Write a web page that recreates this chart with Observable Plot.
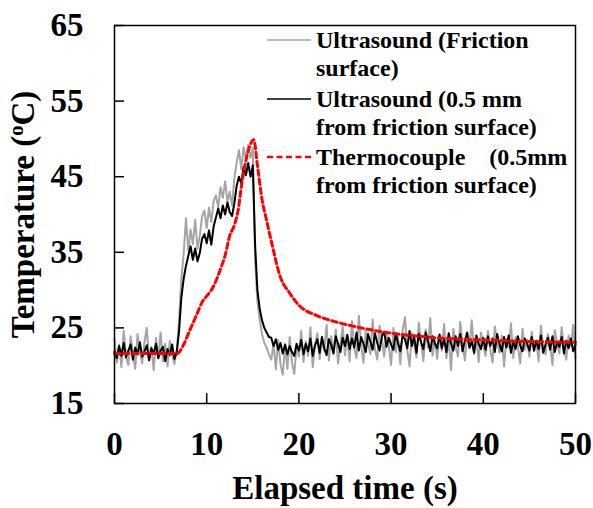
<!DOCTYPE html>
<html><head><meta charset="utf-8">
<script src="https://cdn.jsdelivr.net/npm/d3@7"></script>
<script src="https://cdn.jsdelivr.net/npm/@observablehq/plot@0.6"></script>
<style>
html,body{margin:0;padding:0;background:#fff;}
#chart{width:593px;height:508px;}
</style></head><body><div id="chart"></div>
<script>
// ---------- data ----------
const xTicks = [0, 10, 20, 30, 40, 50];
const yTicks = [15, 25, 35, 45, 55, 65];
const xLabel = "Elapsed time (s)";
const yLabel = "Temperature (oC)";
const sampleStep = 0.25; // seconds between ultrasound samples

// Ultrasound (friction surface), grey
const frictionSurface = [
  23.5,20.4,22.8,19.8,24.6,21.2,20.1,23.9,21.5,19.6,24.2,22.0,20.3,23.1,25.0,20.8,22.5,19.4,23.7,21.0,24.4,20.6,22.9,19.9,23.3,21.4,20.2,22.1,
  26.0,31.5,34.8,39.5,35.2,38.0,36.1,39.3,35.5,37.2,39.8,40.5,38.2,40.9,39.0,41.8,42.5,41.0,43.6,42.2,44.4,41.7,43.0,41.2,44.8,46.9,48.5,46.0,48.9,47.3,49.2,47.5,48.8,
  34.0,28.5,26.0,24.2,23.0,22.4,21.5,
  20.8,22.9,19.5,23.4,20.2,18.8,22.6,19.6,23.8,20.4,18.9,22.7,21.2,
  24.6,20.5,23.2,21.3,25.1,19.8,22.7,24.3,20.9,23.6,22.0,25.4,20.7,23.9,21.6,24.8,20.3,22.9,25.2,21.4,
  24.0,20.6,25.9,22.3,21.0,26.6,22.8,20.4,24.7,23.1,21.5,26.1,22.2,20.8,25.3,23.6,21.2,24.5,22.6,20.1,
  25.0,21.8,23.9,20.2,24.6,26.4,22.1,19.9,24.3,22.9,21.1,25.7,23.2,20.6,24.8,22.4,26.3,21.3,23.5,20.9,
  24.2,22.0,25.5,21.0,23.7,19.4,24.9,22.5,21.2,25.8,23.0,20.7,24.1,22.3,26.0,21.5,23.8,20.5,24.4,22.7,
  21.3,24.6,22.2,20.4,25.2,23.1,21.7,24.0,19.9,23.5,22.4,25.6,21.0,23.8,22.6,20.3,24.9,22.1,23.4,21.2,
  24.5,21.9,23.2,20.6,25.3,22.4,21.5,24.2,22.8,20.1,24.7,23.0,21.6,25.1,22.3,20.8,24.0,22.6,25.4,21.0
];

// Ultrasound (0.5 mm from friction surface), black
const subsurface = [
  21.9,21.0,22.6,21.3,23.0,21.1,22.0,22.8,20.8,22.4,21.5,23.1,21.2,21.9,22.7,20.7,22.3,21.6,22.9,21.0,22.0,22.5,20.6,22.2,21.4,22.8,20.9,21.8,
  24.5,29.0,31.5,33.2,34.5,35.8,34.0,35.5,33.8,34.9,36.8,37.4,36.2,37.9,36.0,38.4,39.6,40.8,39.5,41.2,40.0,41.6,40.3,39.8,41.5,43.8,45.0,44.1,46.3,45.2,46.8,45.0,46.5,
  36.0,30.0,27.5,26.0,25.0,24.4,23.8,
  23.7,22.6,23.5,22.1,23.0,21.6,22.8,21.5,22.6,21.8,21.3,22.9,22.0,
  23.4,21.5,22.9,21.9,23.6,21.3,22.7,23.5,21.7,23.8,22.3,21.4,23.5,22.8,21.6,23.9,22.9,21.8,23.7,22.6,
  24.1,22.2,23.6,22.4,24.4,22.0,23.8,22.9,21.8,24.2,23.2,22.1,24.3,23.0,22.0,23.9,24.5,22.5,23.7,22.8,
  22.1,24.3,23.0,21.9,24.0,23.5,22.3,24.6,22.6,23.8,21.7,24.2,23.1,22.2,24.4,23.3,21.9,23.9,22.9,22.3,
  24.1,22.3,23.5,21.8,24.3,22.9,22.0,23.9,22.6,24.2,21.9,23.3,24.4,22.4,23.2,21.7,24.0,22.9,22.2,23.7,
  22.1,23.9,22.6,23.6,21.8,24.2,22.9,21.9,23.8,22.4,24.0,21.7,23.3,22.2,23.9,22.7,21.9,23.6,22.9,22.0,
  23.8,22.0,23.3,22.2,24.0,21.7,22.8,23.7,22.1,23.9,21.8,23.1,22.5,23.8,21.6,23.3,22.3,23.6,21.9,22.8
];

// Thermocouple (0.5 mm from friction surface), red dashed
const tcTime = [0, 6.8, 7.5, 8.0, 8.5, 9.0, 9.5, 10.0, 10.5, 11.0, 11.5, 12.0, 12.5, 13.0, 13.4, 13.8, 14.2, 14.6, 15.1, 15.5, 16.0, 16.5, 17.0, 18.0, 19.0, 20.0, 22.0, 24.0, 26.0, 28.0, 30.0, 33.0, 36.0, 40.0, 45.0, 50.0];
const tcTemp = [21.6, 21.6, 22.8, 24.2, 25.6, 27.0, 28.4, 29.2, 30.0, 31.2, 32.8, 34.6, 37.2, 38.6, 40.5, 44.0, 46.8, 48.8, 49.9, 46.5, 42.0, 39.2, 36.5, 31.7, 29.6, 28.0, 26.6, 25.8, 25.2, 24.7, 24.3, 23.9, 23.6, 23.4, 23.2, 23.1];

const seriesNames = [
  ["Ultrasound (Friction", "surface)"],
  ["Ultrasound (0.5 mm", "from friction surface)"],
  ["Thermocouple    (0.5mm", "from friction surface)"]
];
const seriesColors = ["#a5a5a5", "#000000", "#ff0000"];

// ---------- build tables ----------
const n = Math.min(frictionSurface.length, subsurface.length);
const time = d3.range(n).map(i => i * sampleStep);
const greyData = time.map((t, i) => ({t, v: frictionSurface[i]}));
const blackData = time.map((t, i) => ({t, v: subsurface[i]}));
const tcData = tcTime.map((t, i) => ({t, v: tcTemp[i]}));

const W = 593, H = 508;
const mL = 114, mR = 18, mT = 25, mB = 105;
const innerW = W - mL - mR, innerH = H - mT - mB;
const tickLen = 10;

const chart = Plot.plot({
  width: W, height: H,
  marginLeft: mL, marginRight: mR, marginTop: mT, marginBottom: mB,
  style: {fontFamily: "'Liberation Serif', 'Times New Roman', serif", fontWeight: "bold", fontSize: "33px", color: "black", background: "white", overflow: "visible"},
  x: {domain: [0, 50]},
  y: {domain: [15, 65]},
  marks: [
    Plot.line(greyData, {x: "t", y: "v", stroke: seriesColors[0], strokeWidth: 2}),
    Plot.line(blackData, {x: "t", y: "v", stroke: seriesColors[1], strokeWidth: 2}),
    Plot.line(tcData, {x: "t", y: "v", stroke: seriesColors[2], strokeWidth: 3, strokeDasharray: "5.5,3.5", curve: "monotone-x"}),
    Plot.tickX(xTicks, {x: d => d, insetTop: innerH - tickLen, stroke: "black", strokeWidth: 1.5}),
    Plot.tickY(yTicks, {y: d => d, insetRight: innerW - tickLen, stroke: "black", strokeWidth: 1.5}),
    Plot.frame({stroke: "black", strokeWidth: 1.5}),
    Plot.axisX({ticks: xTicks, tickSize: 0, tickPadding: 28, fontSize: 33, tickFormat: d => String(d),
      label: xLabel, labelAnchor: "center", labelArrow: "none", labelOffset: 95}),
    Plot.axisY({ticks: yTicks, tickSize: 0, tickPadding: 31, fontSize: 33, tickFormat: d => String(d),
      label: yLabel, labelAnchor: "center", labelArrow: "none", labelOffset: 104})
  ]
});
document.getElementById("chart").appendChild(chart);

const svg = d3.select(chart);
// superscript o in the y label
svg.selectAll('g[aria-label="y-axis label"] text').each(function() {
  const t = d3.select(this);
  t.text(null);
  t.append("tspan").text("Temperature (");
  t.append("tspan").attr("font-size", "0.62em").attr("dy", "-0.55em").text("o");
  t.append("tspan").attr("dy", "0.34em").text("C)");
});

// legend (inside the plot, top right)
const lg = svg.append("g")
  .attr("font-family", "'Liberation Serif', 'Times New Roman', serif")
  .attr("font-weight", "bold").attr("font-size", 24).attr("fill", "black")
  .attr("text-anchor", "start");
const legendLineY = [40, 99, 157];
const legendBase = [[48, 76], [107, 135], [165, 193]];
seriesNames.forEach((lines, i) => {
  lg.append("line").attr("x1", 267).attr("x2", 311).attr("y1", legendLineY[i]).attr("y2", legendLineY[i])
    .attr("stroke", seriesColors[i]).attr("stroke-width", i === 2 ? 2.5 : 1.5)
    .attr("stroke-dasharray", i === 2 ? "6,3.5" : null);
  lines.forEach((s, j) => {
    lg.append("text").attr("x", 316).attr("y", legendBase[i][j])
      .attr("text-anchor", "start")
      .style("white-space", "pre").text(s);
  });
});
</script></body></html>
